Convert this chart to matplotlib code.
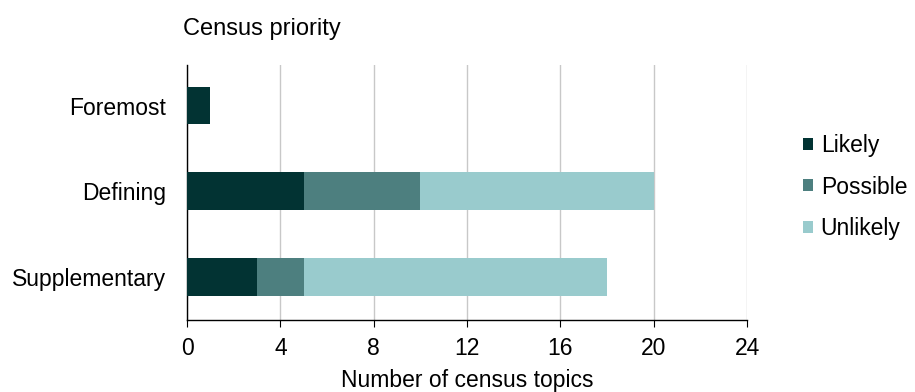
import numpy as np
import matplotlib.pyplot as plt

plt.rcParams['font.family'] = ['Liberation Sans', 'DejaVu Sans']

# Census topics by priority and likelihood
categories = ['Foremost', 'Defining', 'Supplementary']
likely = [1, 5, 3]
possible = [0, 5, 2]
unlikely = [0, 10, 13]
series_names = ['Likely', 'Possible', 'Unlikely']
colors = ['#023333', '#4d7f7f', '#99cbcd']

fs = 16.5

fig = plt.figure(figsize=(9.15, 3.92), dpi=100)
ax = fig.add_axes([0.2044, 0.1837, 0.612, 0.650])

y = np.arange(len(categories))
left = np.zeros(len(categories))
for vals, name, col in zip([likely, possible, unlikely], series_names, colors):
    ax.barh(y, vals, left=left, height=0.44, color=col, label=name, zorder=3)
    left += np.array(vals)

ax.set_ylim(2.5, -0.47)
ax.set_xlim(0, 24)
ax.set_xticks(range(0, 25, 4))
ax.set_yticks(y)
ax.set_yticklabels(categories, fontsize=fs)
ax.tick_params(axis='x', labelsize=fs, direction='out', length=5, color='black', pad=7)
ax.tick_params(axis='y', length=0, pad=15)
ax.xaxis.grid(True, color='#c8c8c8', linewidth=1)
ax.set_axisbelow(True)

for s in ['top', 'right']:
    ax.spines[s].set_visible(False)
for s in ['left', 'bottom']:
    ax.spines[s].set_color('black')
    ax.spines[s].set_linewidth(1)

ax.set_xlabel('Number of census topics', fontsize=fs, labelpad=7)
fig.text(183 / 915, 1 - 29 / 392, 'Census priority', fontsize=17, ha='left', va='center')

ax.legend(loc='center left', bbox_to_anchor=(803 / 915, 1 - 187 / 392),
          bbox_transform=fig.transFigure, frameon=False, fontsize=fs,
          borderpad=0, borderaxespad=0,
          handlelength=0.42, handleheight=0.42, handletextpad=0.35, labelspacing=0.8)

fig.savefig('out.png', dpi=100)
